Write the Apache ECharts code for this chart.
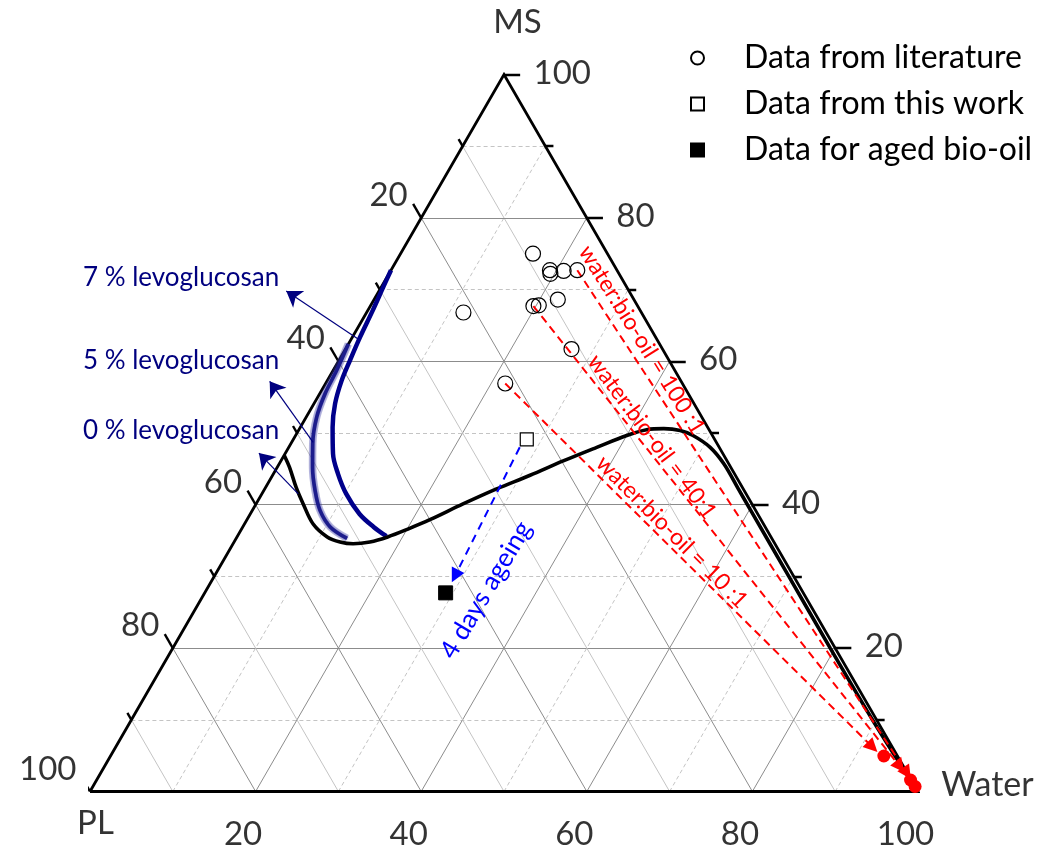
<!DOCTYPE html>
<html>
<head>
<meta charset="utf-8">
<script src="https://cdn.jsdelivr.net/npm/echarts@6.0.0/dist/echarts.min.js"></script>
<style>
html,body{margin:0;padding:0;background:#ffffff;}
#chart{width:1043px;height:852px;}
</style>
</head>
<body>
<div id="chart"></div>
<script>
// ---------- Data: ternary compositions as [Water, MS] (PL = 100 - Water - MS) ----------
const gridValues = [10, 20, 30, 40, 50, 60, 70, 80, 90];
const tickValues = [10, 20, 30, 40, 50, 60, 70, 80, 90, 100];
const tickLabels = [20, 40, 60, 80, 100];
const axisNames = ['Water', 'MS', 'PL'];

const literatureData = [
  [16.0, 75.0], [19.2, 72.7], [19.5, 72.2], [20.9, 72.6], [22.5, 72.7],
  [11.7, 66.8], [19.7, 67.7], [20.3, 67.8], [22.2, 68.6], [27.3, 61.7], [21.7, 56.9]
];
const thisWorkData = [[28.2, 49.1]];
const agedData = [[29.1, 27.7]];

// binodal curves
const binodal0 = [
  [0.0, 46.9], [1.5, 45.2], [3.7, 42.4], [5.7, 40.1], [8.3, 37.3], [10.9, 35.5],
  [12.8, 34.8], [14.5, 34.55], [16.4, 34.8], [18.2, 35.5], [20.1, 36.6], [22.1, 37.9],
  [25.0, 40.1], [28.0, 42.2], [31.1, 44.1], [34.1, 46.1], [37.2, 48.0], [40.0, 49.65],
  [42.0, 50.45], [44.0, 50.6], [46.1, 50.35], [48.0, 49.65], [50.9, 48.0], [53.7, 45.7],
  [57.2, 42.2], [60.3, 39.1], [69.4, 30.0], [79.4, 20.0], [89.5, 10.0], [94.7, 5.0], [100, 0]
];
const binodal5 = [
  [0.0, 62.4], [0.43, 58.7], [0.65, 55.5], [1.28, 52.2], [2.65, 48.5], [4.28, 45.2],
  [6.18, 42.0], [8.18, 39.2], [10.56, 36.9], [13.4, 35.3]
];
const binodal7 = [
  [0.0, 72.7], [0.25, 70.3], [0.6, 67.1], [0.93, 63.4], [1.34, 60.1], [1.74, 57.3],
  [2.55, 54.1], [3.9, 50.8], [5.8, 47.1], [7.8, 44.3], [10.2, 41.5], [13.2, 38.7],
  [15.8, 36.9], [18.0, 35.6]
];

// water : bio-oil dilution lines
const tieRatios = ['100 :1', '40:1', '10 :1'];
const tieStart = [[22.5, 72.7], [19.7, 67.7], [21.7, 56.9]];
const tieArrow = [[97.4, 2.55], [96.1, 3.46], [91.4, 6.2]];
const tieMix = [[99.3, 0.7], [98.3, 1.6], [93.4, 4.95]];

// ageing arrow
const ageingStart = [27.9, 48.0];
const ageingEnd = [29.05, 30.05];

// levoglucosan annotations
const levoLabels = ['7 % levoglucosan', '5 % levoglucosan', '0 % levoglucosan'];
const levoCurvePoint = [[0.83, 63.1], [2.6, 48.7], [4.4, 41.5]];
const levoArrowTip = [[-11.2, 69.8], [-6.9, 57.2], [-3.2, 47.2]];

// ---------- geometry helper ----------
const S3 = Math.sqrt(3) / 2;
function T(p) { return [p[0] + p[1] / 2, p[1] * S3]; }

const MAJ = { color: '#8c8c8c', width: 1, type: 'solid', opacity: 1 };
const MINS = { color: '#c4c4c4', width: 1, type: 'solid', opacity: 1 };
const DASH = { color: '#c4c4c4', width: 1, type: [4, 3], opacity: 1 };

const gridLines = [];
gridValues.forEach(v => {
  const major = v % 20 === 0;
  gridLines.push({ coords: [T([0, v]), T([100 - v, v])], lineStyle: major ? MAJ : DASH });
  gridLines.push({ coords: [T([100 - v, 0]), T([0, 100 - v])], lineStyle: major ? MAJ : MINS });
  gridLines.push({ coords: [T([v, 0]), T([v, 100 - v])], lineStyle: major ? MAJ : DASH });
});

const tickSegs = [];
tickValues.forEach(v => {
  const len = v % 20 === 0 ? 1.95 : 0.97;
  let p = T([v, 0]);
  tickSegs.push({ coords: [p, [p[0] - 0.5 * len, p[1] - S3 * len]] });
  p = T([0, 100 - v]);
  tickSegs.push({ coords: [p, [p[0] - 0.5 * len, p[1] + S3 * len]] });
  p = T([100 - v, v]);
  tickSegs.push({ coords: [p, [p[0] + len, p[1]]] });
});

const FONT = 'Lato';
function labelSeries(points, names, pos, align, size) {
  return {
    type: 'scatter', silent: true, symbolSize: 1, z: 10,
    itemStyle: { color: 'rgba(0,0,0,0)' },
    data: points.map((p, i) => ({ value: T(p), name: names[i] })),
    label: { show: true, formatter: '{b}', position: pos, align: align, verticalAlign: 'middle',
             fontFamily: FONT, fontSize: size || 33, color: '#000' }
  };
}

const series = [
  { type: 'lines', coordinateSystem: 'cartesian2d', silent: true, z: 1, data: gridLines },
  { type: 'lines', coordinateSystem: 'cartesian2d', silent: true, z: 3,
    lineStyle: { color: '#000', width: 2.4, opacity: 1 }, data: tickSegs },
  { type: 'line', silent: true, z: 3, symbol: 'none',
    lineStyle: { color: '#000', width: 2.8, join: 'miter' },
    data: [T([0, 0]), T([100, 0]), T([0, 100]), T([0, 0])] },
  // tick labels
  labelSeries(tickLabels.map(v => [v, 0]), tickLabels.map(String), [-12, 43], 'center'),
  labelSeries(tickLabels.map(v => [0, 100 - v]), tickLabels.map(String), [-13, -22], 'right'),
  labelSeries(tickLabels.map(v => [100 - v, v]), tickLabels.map(String), [30, -1], 'left'),
  // axis names
  labelSeries([[100, 0]], [axisNames[0]], [70, -6], 'center', 34),
  labelSeries([[0, 100]], [axisNames[1]], [14, -52], 'center', 33),
  labelSeries([[0, 0]], [axisNames[2]], [6, 32], 'center', 33),
  // binodal curves: 5 % (soft halo + core), 7 %, 0 %
  { type: 'line', silent: true, z: 4, symbol: 'none', smooth: 0.35,
    lineStyle: { color: 'rgba(60,60,170,0.35)', width: 7.5 },
    data: binodal5.map(T) },
  { type: 'line', silent: true, z: 4, symbol: 'none', smooth: 0.35,
    lineStyle: { color: '#1c1c8c', width: 3.6, shadowBlur: 2, shadowColor: 'rgba(30,30,140,0.6)' },
    data: binodal5.map(T) },
  { type: 'line', silent: true, z: 4, symbol: 'none', smooth: 0.35,
    lineStyle: { color: '#00008b', width: 4.5 },
    data: binodal7.map(T) },
  { type: 'line', silent: true, z: 5, symbol: 'none', smooth: 0.35,
    lineStyle: { color: '#000', width: 3.6 },
    data: binodal0.map(T) },
  // annotation arrows
  { type: 'lines', coordinateSystem: 'cartesian2d', silent: true, z: 6,
    symbol: ['none', 'arrow'], symbolSize: 15,
    lineStyle: { color: '#00007f', width: 1.2, opacity: 1 },
    data: levoCurvePoint.map((p, i) => ({ coords: [T(p), T(levoArrowTip[i])] })) },
  // dilution lines
  { type: 'lines', coordinateSystem: 'cartesian2d', silent: true, z: 6,
    symbol: ['none', 'triangle'], symbolSize: 14,
    lineStyle: { color: '#ff0000', width: 2, type: [8, 5], opacity: 1 },
    data: tieStart.map((p, i) => ({ coords: [T(p), T(tieArrow[i])] })) },
  { type: 'scatter', silent: true, z: 7, symbol: 'circle', symbolSize: 13,
    itemStyle: { color: '#ff0000', opacity: 1 }, data: tieMix.map(T) },
  // ageing arrow
  { type: 'lines', coordinateSystem: 'cartesian2d', silent: true, z: 6,
    symbol: ['none', 'triangle'], symbolSize: 14,
    lineStyle: { color: '#0000ff', width: 2, type: [8, 6], opacity: 1 },
    data: [{ coords: [T(ageingStart), T(ageingEnd)] }] },
  // data points
  { name: 'Data from literature', type: 'scatter', silent: true, z: 8, symbol: 'circle', symbolSize: 15,
    itemStyle: { color: 'rgba(255,255,255,0)', borderColor: '#000', borderWidth: 1.2, opacity: 1 },
    data: literatureData.map(T) },
  { name: 'Data from this work', type: 'scatter', silent: true, z: 8, symbol: 'rect', symbolSize: 13,
    itemStyle: { color: '#fff', borderColor: '#000', borderWidth: 1.2, opacity: 1 },
    data: thisWorkData.map(T) },
  { name: 'Data for aged bio-oil', type: 'scatter', silent: true, z: 8, symbol: 'rect', symbolSize: 14,
    itemStyle: { color: '#000', borderColor: '#000', borderWidth: 1, opacity: 1 },
    data: agedData.map(T) }
];

const deg = Math.PI / 180;
const graphics = [];
const levoY = [278, 361, 431];
levoLabels.forEach((t, i) => graphics.push({
  type: 'text', x: 83, y: levoY[i], silent: true, z: 20,
  style: { text: t, fill: '#00007f', font: '26px Lato', textAlign: 'left', align: 'left',
           textVerticalAlign: 'middle', verticalAlign: 'middle' }
}));
const tieTextPos = [[642, 340, -58], [652, 437, -53.3], [672, 532, -45.2]];
tieRatios.forEach((r, i) => graphics.push({
  type: 'text', x: tieTextPos[i][0], y: tieTextPos[i][1], rotation: tieTextPos[i][2] * deg, silent: true, z: 20,
  style: { text: 'water:bio-oil = ' + r, fill: '#ff0000', font: '23px Lato', textAlign: 'center', align: 'center',
           textVerticalAlign: 'middle', verticalAlign: 'middle' }
}));
graphics.push({
  type: 'text', x: 486, y: 590, rotation: 59.4 * deg, silent: true, z: 20,
  style: { text: '4 days ageing', fill: '#0000ff', font: '26px Lato', textAlign: 'center', align: 'center',
           textVerticalAlign: 'middle', verticalAlign: 'middle' }
});

const chart = echarts.init(document.getElementById('chart'), null, { renderer: 'canvas' });
chart.setOption({
  animation: false,
  backgroundColor: '#ffffff',
  grid: { left: 90, top: 46.3, width: 828, height: 745.2, containLabel: false },
  xAxis: { type: 'value', min: 0, max: 100, show: false },
  yAxis: { type: 'value', min: 0, max: 90, show: false },
  legend: {
    orient: 'vertical', left: 685, top: 35, itemWidth: 13, itemHeight: 13, itemGap: 10,
    selectedMode: false,
    textStyle: { fontFamily: FONT, fontSize: 32, color: '#000', lineHeight: 36, padding: [0, 0, 0, 35] },
    data: [
      { name: 'Data from literature', icon: 'circle' },
      { name: 'Data from this work', icon: 'rect' },
      { name: 'Data for aged bio-oil', icon: 'rect' }
    ]
  },
  graphic: graphics,
  series: series
});
</script>
</body>
</html>
